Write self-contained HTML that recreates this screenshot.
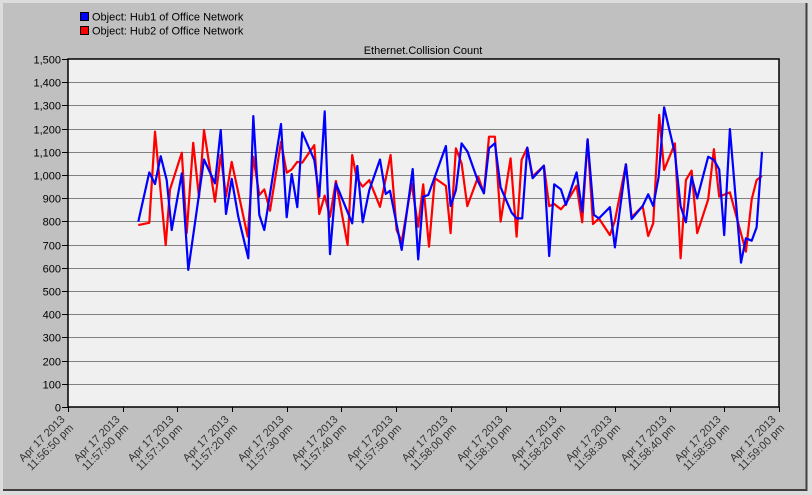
<!DOCTYPE html>
<html><head><meta charset="utf-8"><style>
html,body{margin:0;padding:0;background:#dcdcdc;}
svg{display:block;font-family:"Liberation Sans",Arial,sans-serif;}
</style></head><body>
<svg width="812" height="495">
<rect x="0" y="0" width="812" height="495" fill="#dcdcdc"/>
<rect x="3" y="3" width="804" height="488" fill="#c0c0c0"/>
<line x1="806.5" y1="3" x2="806.5" y2="491" stroke="#404040" stroke-width="2"/>
<line x1="3" y1="490" x2="807" y2="490" stroke="#404040" stroke-width="2"/>
<g>
 <g>
  <rect x="80.5" y="12.5" width="8" height="8" fill="#0000ff" stroke="#000"/>
  <text x="92" y="20.5" font-size="11" fill="#000">Object: Hub1 of Office Network</text>
 </g>
 <g>
  <rect x="80.5" y="26.5" width="8" height="8" fill="#ff0000" stroke="#000"/>
  <text x="92" y="34.5" font-size="11" fill="#000">Object: Hub2 of Office Network</text>
 </g>
</g>
<text x="423" y="54" font-size="11" text-anchor="middle" fill="#000">Ethernet.Collision Count</text>
<rect x="68" y="59" width="711" height="348" fill="#f0f0f0"/>
<g id="grid"></g>
<g id="yaxis"></g>
<g id="xaxis"></g>
<g id="series"></g>
<rect x="68" y="59" width="711" height="348" fill="none" stroke="#000" stroke-width="1.5"/>
</svg>
<script>
const yTicks = [0,100,200,300,400,500,600,700,800,900,1000,1100,1200,1300,1400,1500];
const xTickLabels = ["11:56:50 pm","11:57:00 pm","11:57:10 pm","11:57:20 pm","11:57:30 pm","11:57:40 pm","11:57:50 pm","11:58:00 pm","11:58:10 pm","11:58:20 pm","11:58:30 pm","11:58:40 pm","11:58:50 pm","11:59:00 pm"];
const xTickSeconds = [0,10,20,30,40,50,60,70,80,90,100,110,120,130];
const hub1Times = [12.85,14.86,15.9,16.95,18.04,18.96,20.8,21.99,24.86,26.87,27.92,28.88,29.93,31.13,32.96,33.88,34.97,35.89,38.94,39.98,40.9,41.92,42.83,45.03,45.94,46.93,47.9,48.99,51.97,52.89,53.88,55.09,57.04,58.08,58.87,61.01,63.02,64.04,64.95,65.87,69.1,69.96,70.93,71.97,73.07,75.01,76.05,76.97,78.06,79.1,81.11,82.03,83.05,83.97,84.95,87.02,87.99,88.9,90.13,91.04,93,94.02,95.01,96.16,97.07,99.09,100,102,103.05,105.06,106.09,107,108,109,110.97,112,112.98,114.02,115.05,117.06,118.1,119.07,119.98,121.03,123.06,123.95,125,125.9,126.9];
const hub1Values = [799,1011,961,1081,978,763,1007,591,1067,964,1194,832,983,820,641,1254,828,763,1220,818,1004,861,1184,1065,907,1274,659,964,792,1039,796,935,1067,918,932,677,1026,636,907,914,1125,866,935,1136,1100,971,921,1115,1136,947,838,813,813,1118,986,1040,651,960,938,871,1011,842,1154,828,813,861,688,1046,810,866,917,866,993,1292,1093,866,796,993,899,1079,1065,1024,741,1198,622,727,717,774,1100];
const hub2Times = [12.85,14.86,15.9,17.87,18.65,20.8,21.7,22.9,23.95,24.86,26.87,27.92,28.88,29.93,32.85,33.88,34.97,35.89,36.93,38.94,39.98,40.9,41.92,42.83,45.03,45.94,46.93,47.9,48.99,51.13,51.97,52.79,53.88,55.09,57.04,58.99,60.09,61.01,62.83,64.04,64.95,66.0,67.09,69.1,69.96,70.93,71.97,73.0,75.01,76.05,76.97,78.06,79.1,80.93,82.03,82.94,83.97,84.95,87.02,87.99,88.9,90.13,90.99,93,94.02,95.01,96.0,97.07,99.09,100,102,103.05,105.06,106.09,107,108.1,109,110.97,112,112.98,114.02,115.05,117.06,118.1,119.07,121.03,123.95,125,125.9,126.9];
const hub2Values = [784,794,1187,698,938,1096,750,1139,904,1194,885,1086,907,1057,734,1079,914,938,846,1143,1010,1024,1057,1053,1129,832,911,820,974,698,1086,986,950,978,863,1086,763,713,964,777,960,691,986,953,749,1115,1050,866,993,921,1165,1165,799,1072,734,1065,1118,993,1040,866,875,852,875,954,796,1154,789,813,741,803,1046,818,866,737,792,1259,1022,1136,641,978,1019,749,895,1111,907,925,670,895,978,996];

const NS="http://www.w3.org/2000/svg";
const X0=68,X1=779,Y0=407,Y1=59;
const xs=t=>X0+(t-0)/130*(X1-X0);
const ys=v=>Y0-(v/1500)*(Y0-Y1);
function mk(tag,attrs,parent){const e=document.createElementNS(NS,tag);for(const k in attrs)e.setAttribute(k,attrs[k]);parent.appendChild(e);return e;}
const grid=document.getElementById('grid'),yax=document.getElementById('yaxis'),xax=document.getElementById('xaxis'),ser=document.getElementById('series');
yTicks.forEach(v=>{
  const y=Math.round(ys(v))+0.5;
  if(v>0&&v<1500){const g=mk('line',{x1:X0,x2:X1,y1:y,y2:y,stroke:'#808080','stroke-width':1},grid);
  
  }
  const t=mk('line',{x1:X0-6,x2:X0,y1:y,y2:y,stroke:'#000'},yax);
  
  
  const l=mk('text',{x:X0-7,y:y+4,'font-size':11,'text-anchor':'end',fill:'#000'},yax);
  
  
  l.textContent=v.toLocaleString('en-US');
});
xTickSeconds.forEach((s,i)=>{
  const x=Math.round(xs(s))+0.5;
  const t=mk('line',{x1:x,x2:x,y1:Y0,y2:Y0+5,stroke:'#000'},xax);
  
  
  const ax=x-3,ay=420;
  const l=mk('text',{x:ax,y:ay,'font-size':11,'text-anchor':'end',fill:'#333',transform:`rotate(-45 ${ax} ${ay})`},xax);
  
  
  const a=mk('tspan',{x:ax,dy:0},l);a.textContent='Apr 17 2013';
  const b=mk('tspan',{x:ax,dy:12},l);b.textContent=xTickLabels[i];
});
function drawSeries(times,vals,color,name){
  const pts=times.map((t,i)=>xs(t).toFixed(1)+','+ys(vals[i]).toFixed(1)).join(' ');
  const p=mk('polyline',{points:pts,fill:'none',stroke:color,'stroke-width':2.2,'stroke-linejoin':'round'},ser);
  
  
}
drawSeries(hub2Times,hub2Values,'#ff0000','hub2-line');
drawSeries(hub1Times,hub1Values,'#0000ff','hub1-line');
</script>
</body></html>
